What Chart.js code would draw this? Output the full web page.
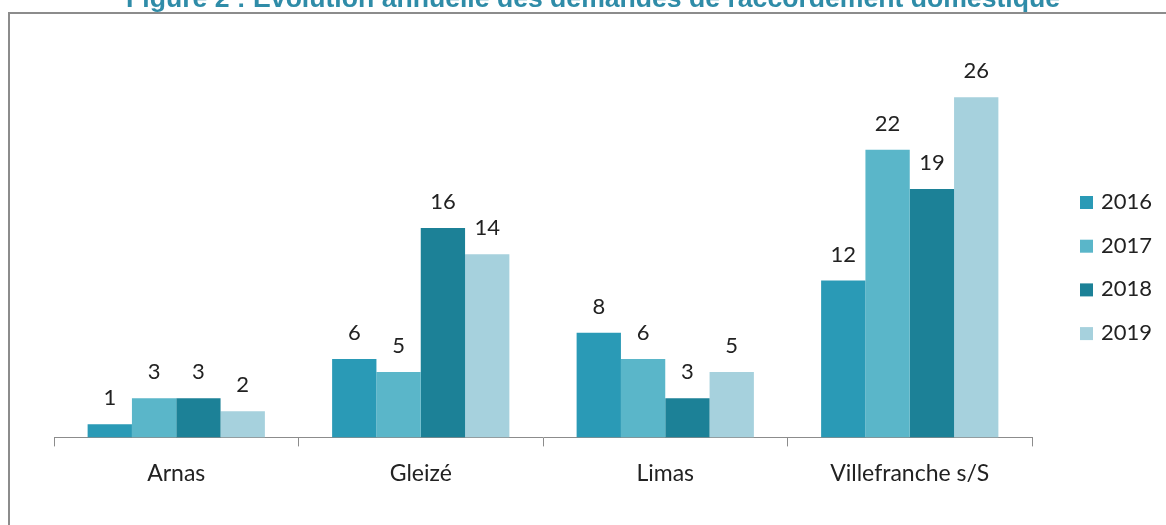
<!DOCTYPE html>
<html>
<head>
<meta charset="utf-8">
<script src="https://cdn.jsdelivr.net/npm/chart.js@4/dist/chart.umd.min.js"></script>
<style>
  html, body { margin: 0; padding: 0; background: #fff; }
  #wrap { position: relative; width: 1166px; height: 525px; }
</style>
</head>
<body>
<div id="wrap"><canvas id="graphique" width="1166" height="525"></canvas></div>
<script>
// données
var titre = 'Figure 2 : Evolution annuelle des demandes de raccordement domestique';
var communes = ['Arnas', 'Gleizé', 'Limas', 'Villefranche s/S'];
var annees = ['2016', '2017', '2018', '2019'];
var demandes2016 = [1, 6, 8, 12];
var demandes2017 = [3, 5, 6, 22];
var demandes2018 = [3, 16, 3, 19];
var demandes2019 = [2, 14, 5, 26];

var couleurs = ['#2a9ab6', '#5ab6c9', '#1c8197', '#a6d1dd'];
var police = 'Lato, "Open Sans", sans-serif';

var series = [demandes2016, demandes2017, demandes2018, demandes2019];

var cadreEtTitre = {
    id: 'cadreEtTitre',
    beforeDraw: function (chart) {
        var ctx = chart.ctx;
        ctx.save();
        ctx.strokeStyle = '#8c8c8c';
        ctx.lineWidth = 2;
        ctx.strokeRect(9, 13, 1200, 600);
        ctx.fillStyle = '#2f8ca8';
        ctx.font = 'bold 26.6px "Liberation Sans", Arial, sans-serif';
        ctx.textAlign = 'center';
        ctx.textBaseline = 'alphabetic';
        ctx.fillText(titre, 593, 7);
        ctx.restore();
    }
};

var etiquettes = {
    id: 'etiquettes',
    afterDatasetsDraw: function (chart) {
        var ctx = chart.ctx;
        ctx.save();
        ctx.fillStyle = '#222';
        ctx.font = '22px ' + police;
        ctx.textAlign = 'center';
        ctx.textBaseline = 'middle';
        chart.data.datasets.forEach(function (ds, i) {
            chart.getDatasetMeta(i).data.forEach(function (barre, j) {
                ctx.fillText(ds.data[j], barre.x, barre.y - 26);
            });
        });

        // légende à droite
        ctx.textAlign = 'left';
        chart.data.datasets.forEach(function (ds, i) {
            var y = 202 + i * 43.7;
            ctx.fillStyle = ds.backgroundColor;
            ctx.fillRect(1080, y - 6, 13, 13);
            ctx.fillStyle = '#222';
            ctx.fillText(ds.label, 1101, y);
        });
        ctx.restore();
    }
};

new Chart(document.getElementById('graphique').getContext('2d'), {
    type: 'bar',
    data: {
        labels: communes,
        datasets: annees.map(function (a, i) {
            return {
                label: a,
                data: series[i],
                backgroundColor: couleurs[i],
                borderWidth: 0,
                barPercentage: 1,
                categoryPercentage: 0.725
            };
        })
    },
    options: {
        responsive: false,
        animation: false,
        events: [],
        layout: { padding: { left: 54, right: 134, top: 45, bottom: 25 } },
        plugins: {
            legend: { display: false },
            title: { display: false },
            tooltip: { enabled: false }
        },
        scales: {
            y: {
                display: false,
                min: 0,
                max: 30
            },
            x: {
                grid: {
                    drawOnChartArea: false,
                    tickLength: 9,
                    color: '#8c8c8c'
                },
                border: { color: '#8c8c8c', width: 1 },
                ticks: {
                    color: '#222',
                    padding: 13,
                    font: { family: police, size: 23 }
                }
            }
        }
    },
    plugins: [cadreEtTitre, etiquettes]
});
</script>
</body>
</html>
